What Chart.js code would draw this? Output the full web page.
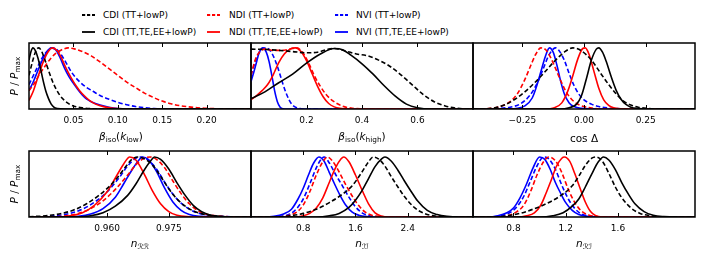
<!DOCTYPE html>
<html>
<head>
<meta charset="utf-8">
<script src="https://cdn.jsdelivr.net/npm/chart.js@4.4.1/dist/chart.umd.min.js"></script>
<style>
  body { margin: 0; background: #fff; width: 705px; height: 263px; position: relative; overflow: hidden;
         font-family: 'DejaVu Sans', 'Noto Sans', sans-serif; }
  canvas { position: absolute; }
  .leg { position: absolute; font-size: 9px; white-space: nowrap; line-height: 11px; transform: translateY(-50%); color: #000; }
  .legline { position: absolute; }
</style>
</head>
<body>
<div id="legend"></div>
<script>
// beta_iso(k_low)
const kLowTicks = [0.05, 0.10, 0.15, 0.20];
const kLowLabels = ['0.05', '0.10', '0.15', '0.20'];
const aCdiTT = [[0,0.55],[0.004,0.78],[0.008,0.96],[0.011,1.0],[0.014,0.95],[0.018,0.8],[0.022,0.63],[0.026,0.47],[0.03,0.34],[0.035,0.22],[0.04,0.14],[0.045,0.085],[0.05,0.05],[0.06,0.018],[0.07,0.005],[0.08,0],[0.25,0]];
const aCdiAll = [[0,0.8],[0.002,0.93],[0.0045,1.0],[0.007,0.96],[0.01,0.84],[0.013,0.66],[0.016,0.46],[0.019,0.29],[0.022,0.17],[0.025,0.08],[0.028,0.03],[0.032,0.008],[0.04,0],[0.25,0]];
const aNdiTT = [[0,0.3],[0.006,0.42],[0.012,0.57],[0.018,0.7],[0.024,0.82],[0.03,0.91],[0.037,0.97],[0.044,1.0],[0.052,0.98],[0.06,0.94],[0.07,0.87],[0.08,0.77],[0.09,0.66],[0.1,0.55],[0.11,0.44],[0.12,0.35],[0.13,0.26],[0.14,0.19],[0.15,0.13],[0.16,0.085],[0.17,0.055],[0.18,0.035],[0.19,0.02],[0.2,0.01],[0.22,0.003],[0.24,0],[0.25,0]];
const aNdiAll = [[0,0.14],[0.005,0.3],[0.01,0.52],[0.015,0.73],[0.02,0.9],[0.026,1.0],[0.032,0.95],[0.037,0.82],[0.042,0.66],[0.047,0.52],[0.052,0.4],[0.057,0.3],[0.062,0.22],[0.068,0.14],[0.075,0.08],[0.085,0.035],[0.095,0.012],[0.105,0.002],[0.115,0],[0.25,0]];
const aNviTT = [[0,0.4],[0.005,0.55],[0.01,0.7],[0.015,0.84],[0.02,0.94],[0.027,1.0],[0.033,0.95],[0.04,0.8],[0.048,0.6],[0.056,0.46],[0.064,0.36],[0.072,0.29],[0.08,0.22],[0.09,0.16],[0.1,0.11],[0.11,0.07],[0.12,0.04],[0.13,0.02],[0.14,0.007],[0.15,0],[0.25,0]];
const aNviAll = [[0,0.3],[0.005,0.45],[0.01,0.63],[0.015,0.8],[0.02,0.93],[0.025,1.0],[0.03,0.97],[0.035,0.84],[0.04,0.67],[0.045,0.53],[0.05,0.42],[0.055,0.32],[0.06,0.23],[0.065,0.16],[0.07,0.12],[0.08,0.065],[0.09,0.03],[0.1,0.008],[0.11,0],[0.25,0]];

// beta_iso(k_high)
const kHighTicks = [0.2, 0.4, 0.6];
const kHighLabels = ['0.2', '0.4', '0.6'];
const bCdiTT = [[0,0.98],[0.05,0.975],[0.1,0.96],[0.15,0.94],[0.2,0.92],[0.24,0.93],[0.28,0.98],[0.3,0.99],[0.34,0.95],[0.38,0.9],[0.42,0.87],[0.46,0.8],[0.5,0.7],[0.54,0.56],[0.58,0.4],[0.62,0.24],[0.66,0.12],[0.7,0.05],[0.74,0.015],[0.78,0],[0.8,0]];
const bCdiAll = [[0,0.17],[0.05,0.28],[0.1,0.43],[0.15,0.57],[0.2,0.75],[0.25,0.9],[0.3,0.99],[0.33,0.97],[0.36,0.88],[0.4,0.74],[0.44,0.57],[0.48,0.38],[0.52,0.21],[0.56,0.08],[0.6,0.02],[0.65,0],[0.8,0]];
const bNdiTT = [[0,0.55],[0.015,0.8],[0.03,0.93],[0.05,0.98],[0.08,0.96],[0.11,0.96],[0.14,0.98],[0.165,1.0],[0.19,0.9],[0.21,0.73],[0.23,0.53],[0.25,0.37],[0.27,0.24],[0.29,0.15],[0.31,0.09],[0.33,0.045],[0.36,0.015],[0.4,0.002],[0.42,0],[0.8,0]];
const bNdiAll = [[0,0.15],[0.02,0.22],[0.04,0.3],[0.06,0.4],[0.08,0.56],[0.1,0.76],[0.12,0.9],[0.14,0.98],[0.16,1.0],[0.18,0.94],[0.2,0.79],[0.22,0.58],[0.24,0.37],[0.26,0.2],[0.28,0.09],[0.3,0.035],[0.32,0.01],[0.35,0],[0.8,0]];
const bNviTT = [[0,0.55],[0.01,0.7],[0.02,0.83],[0.035,0.96],[0.055,1.0],[0.07,0.95],[0.085,0.82],[0.1,0.63],[0.115,0.41],[0.13,0.22],[0.145,0.09],[0.16,0.03],[0.18,0.005],[0.2,0],[0.8,0]];
const bNviAll = [[0,0.45],[0.01,0.6],[0.02,0.77],[0.03,0.93],[0.043,1.0],[0.055,0.93],[0.065,0.78],[0.075,0.55],[0.085,0.3],[0.095,0.12],[0.105,0.03],[0.115,0.005],[0.13,0],[0.8,0]];

// cos Delta
const cosTicks = [-0.25, 0, 0.25];
const cosLabels = ['\u22120.25', '0.00', '0.25'];
const cCdiTT = [[-0.45,0],[-0.42,0],[-0.36,0.02],[-0.32,0.07],[-0.28,0.16],[-0.24,0.28],[-0.2,0.43],[-0.16,0.6],[-0.12,0.78],[-0.08,0.93],[-0.045,1.0],[-0.01,0.95],[0.03,0.8],[0.07,0.57],[0.1,0.4],[0.13,0.25],[0.16,0.13],[0.19,0.065],[0.22,0.03],[0.26,0.008],[0.3,0],[0.45,0]];
const cCdiAll = [[-0.45,0],[-0.1,0],[-0.06,0.02],[-0.03,0.08],[-0.01,0.22],[0.01,0.5],[0.03,0.8],[0.05,0.98],[0.06,1.0],[0.075,0.93],[0.09,0.78],[0.11,0.53],[0.13,0.31],[0.15,0.16],[0.17,0.075],[0.19,0.03],[0.22,0.008],[0.26,0],[0.45,0]];
const cNdiTT = [[-0.45,0],[-0.43,0],[-0.38,0.01],[-0.34,0.04],[-0.3,0.12],[-0.27,0.25],[-0.24,0.48],[-0.215,0.72],[-0.195,0.9],[-0.175,1.0],[-0.155,0.97],[-0.135,0.84],[-0.115,0.66],[-0.095,0.47],[-0.075,0.3],[-0.055,0.18],[-0.03,0.09],[0,0.04],[0.04,0.012],[0.08,0.003],[0.12,0],[0.45,0]];
const cNdiAll = [[-0.45,0],[-0.16,0],[-0.12,0.02],[-0.09,0.1],[-0.065,0.3],[-0.045,0.55],[-0.025,0.82],[-0.005,0.99],[0.005,1.0],[0.02,0.9],[0.04,0.62],[0.06,0.34],[0.08,0.15],[0.1,0.06],[0.12,0.02],[0.15,0.003],[0.18,0],[0.45,0]];
const cNviTT = [[-0.45,0],[-0.42,0],[-0.35,0.01],[-0.3,0.03],[-0.26,0.08],[-0.22,0.22],[-0.19,0.42],[-0.165,0.66],[-0.145,0.86],[-0.125,0.98],[-0.115,1.0],[-0.1,0.95],[-0.08,0.8],[-0.06,0.58],[-0.04,0.38],[-0.02,0.24],[0,0.15],[0.03,0.08],[0.06,0.04],[0.1,0.015],[0.15,0.003],[0.2,0],[0.45,0]];
const cNviAll = [[-0.45,0],[-0.3,0],[-0.27,0.01],[-0.24,0.05],[-0.21,0.18],[-0.19,0.4],[-0.17,0.68],[-0.155,0.88],[-0.14,1.0],[-0.125,0.93],[-0.11,0.72],[-0.095,0.46],[-0.08,0.25],[-0.06,0.1],[-0.04,0.04],[-0.01,0.01],[0.03,0.002],[0.1,0],[0.45,0]];

// n_RR
const nRRTicks = [0.960, 0.975];
const nRRLabels = ['0.960', '0.975'];
const dCdiTT = [[0.941,0.005],[0.945,0.02],[0.949,0.06],[0.952,0.12],[0.955,0.22],[0.958,0.36],[0.961,0.54],[0.963,0.7],[0.965,0.88],[0.966,0.96],[0.9675,1.0],[0.969,0.97],[0.971,0.87],[0.973,0.68],[0.975,0.47],[0.977,0.3],[0.979,0.18],[0.981,0.1],[0.984,0.04],[0.987,0.012],[0.99,0.002],[0.993,0],[0.995,0]];
const dCdiAll = [[0.941,0],[0.952,0],[0.956,0.02],[0.959,0.07],[0.962,0.18],[0.965,0.36],[0.967,0.55],[0.969,0.78],[0.971,0.97],[0.9715,1.0],[0.973,0.96],[0.975,0.8],[0.977,0.57],[0.979,0.36],[0.981,0.19],[0.983,0.09],[0.985,0.035],[0.988,0.008],[0.992,0],[0.995,0]];
const dNdiTT = [[0.941,0],[0.946,0],[0.95,0.02],[0.953,0.06],[0.956,0.14],[0.959,0.27],[0.962,0.46],[0.965,0.7],[0.967,0.87],[0.969,0.98],[0.9705,1.0],[0.972,0.96],[0.974,0.82],[0.976,0.6],[0.978,0.39],[0.98,0.22],[0.982,0.11],[0.984,0.05],[0.987,0.015],[0.99,0.003],[0.993,0],[0.995,0]];
const dNdiAll = [[0.941,0],[0.948,0],[0.951,0.02],[0.954,0.07],[0.957,0.2],[0.96,0.42],[0.962,0.65],[0.964,0.88],[0.9655,1.0],[0.967,0.95],[0.969,0.72],[0.971,0.44],[0.973,0.22],[0.975,0.09],[0.977,0.03],[0.98,0.005],[0.983,0],[0.995,0]];
const dNviTT = [[0.941,0],[0.943,0],[0.947,0.02],[0.951,0.06],[0.954,0.13],[0.957,0.25],[0.96,0.42],[0.963,0.66],[0.965,0.85],[0.967,0.98],[0.968,1.0],[0.97,0.95],[0.972,0.8],[0.974,0.58],[0.976,0.38],[0.978,0.23],[0.98,0.13],[0.982,0.07],[0.985,0.03],[0.988,0.01],[0.992,0],[0.995,0]];
const dNviAll = [[0.941,0],[0.95,0],[0.953,0.01],[0.956,0.05],[0.959,0.14],[0.962,0.33],[0.964,0.55],[0.966,0.78],[0.968,0.97],[0.9685,1.0],[0.97,0.96],[0.972,0.76],[0.974,0.48],[0.976,0.25],[0.978,0.11],[0.98,0.04],[0.983,0.01],[0.986,0],[0.995,0]];

// n_II
const nIITicks = [0.8, 1.6, 2.4];
const nIILabels = ['0.8', '1.6', '2.4'];
const eCdiTT = [[0,0],[0.4,0],[0.6,0.02],[0.8,0.06],[1.0,0.13],[1.2,0.24],[1.4,0.38],[1.55,0.52],[1.7,0.75],[1.8,0.92],[1.87,1.0],[1.95,0.97],[2.05,0.85],[2.15,0.67],[2.25,0.5],[2.35,0.34],[2.5,0.16],[2.65,0.06],[2.8,0.02],[3.0,0],[3.4,0]];
const eCdiAll = [[0,0],[1.0,0],[1.2,0.02],[1.35,0.06],[1.5,0.16],[1.6,0.28],[1.7,0.44],[1.8,0.64],[1.9,0.84],[2.0,0.97],[2.05,1.0],[2.15,0.93],[2.25,0.78],[2.35,0.6],[2.45,0.43],[2.55,0.27],[2.7,0.11],[2.85,0.04],[3.0,0.01],[3.2,0],[3.4,0]];
const eNdiTT = [[0,0],[0.4,0],[0.55,0.02],[0.7,0.08],[0.8,0.2],[0.9,0.42],[1.0,0.7],[1.1,0.92],[1.17,1.0],[1.25,0.93],[1.35,0.75],[1.45,0.54],[1.55,0.35],[1.65,0.19],[1.75,0.08],[1.85,0.03],[2.0,0.005],[2.1,0],[3.4,0]];
const eNdiAll = [[0,0],[0.65,0],[0.8,0.02],[0.9,0.06],[1.0,0.15],[1.1,0.32],[1.2,0.58],[1.3,0.83],[1.38,0.97],[1.42,1.0],[1.5,0.92],[1.6,0.7],[1.7,0.45],[1.8,0.22],[1.9,0.07],[2.0,0.015],[2.1,0],[3.4,0]];
const eNviTT = [[0,0],[0.3,0],[0.45,0.01],[0.6,0.05],[0.7,0.14],[0.8,0.3],[0.9,0.55],[1.0,0.82],[1.08,0.97],[1.12,1.0],[1.2,0.9],[1.3,0.7],[1.4,0.52],[1.5,0.33],[1.6,0.17],[1.7,0.07],[1.8,0.025],[1.95,0.005],[2.1,0],[3.4,0]];
const eNviAll = [[0,0],[0.2,0],[0.35,0.01],[0.5,0.05],[0.62,0.13],[0.72,0.3],[0.8,0.48],[0.88,0.7],[0.96,0.9],[1.04,1.0],[1.12,0.93],[1.2,0.74],[1.28,0.55],[1.36,0.37],[1.45,0.2],[1.55,0.08],[1.65,0.03],[1.8,0.005],[1.9,0],[3.4,0]];

// n_RI
const nRITicks = [0.8, 1.2, 1.6];
const nRILabels = ['0.8', '1.2', '1.6'];
const fCdiTT = [[0.49,0],[0.65,0],[0.75,0.02],[0.85,0.06],[0.95,0.13],[1.05,0.22],[1.15,0.34],[1.25,0.52],[1.3,0.68],[1.35,0.86],[1.4,0.98],[1.43,1.0],[1.48,0.93],[1.53,0.73],[1.58,0.5],[1.63,0.32],[1.7,0.15],[1.77,0.06],[1.85,0.02],[1.95,0],[2.19,0]];
const fCdiAll = [[0.49,0],[1.0,0],[1.1,0.02],[1.18,0.07],[1.25,0.18],[1.3,0.3],[1.35,0.5],[1.4,0.72],[1.45,0.92],[1.49,1.0],[1.53,0.95],[1.58,0.79],[1.63,0.57],[1.68,0.38],[1.73,0.22],[1.8,0.09],[1.87,0.03],[1.95,0.007],[2.05,0],[2.19,0]];
const fNdiTT = [[0.49,0],[0.68,0],[0.75,0.02],[0.82,0.08],[0.88,0.2],[0.93,0.42],[0.98,0.7],[1.03,0.92],[1.07,1.0],[1.12,0.94],[1.17,0.74],[1.22,0.46],[1.27,0.24],[1.32,0.1],[1.38,0.03],[1.45,0.005],[1.52,0],[2.19,0]];
const fNdiAll = [[0.49,0],[0.83,0],[0.9,0.02],[0.96,0.07],[1.01,0.2],[1.05,0.4],[1.09,0.62],[1.13,0.85],[1.17,0.98],[1.19,1.0],[1.23,0.93],[1.27,0.72],[1.31,0.48],[1.35,0.25],[1.39,0.09],[1.43,0.02],[1.48,0],[2.19,0]];
const fNviTT = [[0.49,0],[0.62,0],[0.7,0.02],[0.77,0.07],[0.83,0.18],[0.88,0.35],[0.93,0.6],[0.98,0.85],[1.03,1.0],[1.07,0.97],[1.12,0.8],[1.17,0.53],[1.22,0.3],[1.27,0.14],[1.32,0.05],[1.4,0.01],[1.5,0],[2.19,0]];
const fNviAll = [[0.49,0],[0.6,0],[0.68,0.02],[0.75,0.07],[0.8,0.15],[0.85,0.32],[0.9,0.55],[0.95,0.82],[1.0,1.0],[1.04,0.96],[1.08,0.8],[1.12,0.58],[1.16,0.4],[1.2,0.24],[1.25,0.11],[1.3,0.04],[1.38,0.008],[1.45,0],[2.19,0]];

const seriesNames = ['CDI (TT+lowP)', 'CDI (TT,TE,EE+lowP)', 'NDI (TT+lowP)', 'NDI (TT,TE,EE+lowP)', 'NVI (TT+lowP)', 'NVI (TT,TE,EE+lowP)'];
const seriesColors = ['#000', '#000', '#f00', '#f00', '#00f', '#00f'];
const seriesDashed = [true, false, true, false, true, false];

const FONT = "'DejaVu Sans', 'Noto Sans', sans-serif";
const DASH = [4.5, 2.5];

// layout of the 2x3 grid (pixels)
const colLeft = [29, 251, 473];
const rowTop = [43, 151];
const plotW = 222, plotH = 66;
const axisH = 40;

// titles as [text, style] pieces: i = italic, s = subscript
const panels = [
  { row: 0, col: 0, min: 0, max: 0.25, ymax: 1.08, ticks: kLowTicks, labels: kLowLabels,
    series: [aCdiTT, aCdiAll, aNdiTT, aNdiAll, aNviTT, aNviAll],
    title: [['β','i'],['iso','s'],['(',''],['k','i'],['low','s'],[')','']], dx: -19, base: 31 },
  { row: 0, col: 1, min: 0, max: 0.8, ymax: 1.08, ticks: kHighTicks, labels: kHighLabels,
    series: [bCdiTT, bCdiAll, bNdiTT, bNdiAll, bNviTT, bNviAll],
    title: [['β','i'],['iso','s'],['(',''],['k','i'],['high','s'],[')','']], dx: 0, base: 31 },
  { row: 0, col: 2, min: -0.45, max: 0.45, ymax: 1.08, ticks: cosTicks, labels: cosLabels,
    series: [cCdiTT, cCdiAll, cNdiTT, cNdiAll, cNviTT, cNviAll],
    title: [['cos Δ','']], dx: 0, base: 32.5 },
  { row: 1, col: 0, min: 0.941, max: 0.995, ymax: 1.1, ticks: nRRTicks, labels: nRRLabels,
    series: [dCdiTT, dCdiAll, dNdiTT, dNdiAll, dNviTT, dNviAll],
    title: [['n','i'],['ℛℛ','si']], dx: 0, base: 30 },
  { row: 1, col: 1, min: 0, max: 3.4, ymax: 1.1, ticks: nIITicks, labels: nIILabels,
    series: [eCdiTT, eCdiAll, eNdiTT, eNdiAll, eNviTT, eNviAll],
    title: [['n','i'],['ℐℐ','si']], dx: 0, base: 30 },
  { row: 1, col: 2, min: 0.49, max: 2.19, ymax: 1.1, ticks: nRITicks, labels: nRILabels,
    series: [fCdiTT, fCdiAll, fNdiTT, fNdiAll, fNviTT, fNviAll],
    title: [['n','i'],['ℛℐ','si']], dx: 0, base: 30 }
];
const yTitle = [['P','i'],[' / ',''],['P','i'],['max','s']];

function pieceFont(p, size) {
  const sub = p[1].includes('s');
  return (p[1].includes('i') ? 'italic ' : '') + (sub ? size * 0.7 : size) + 'px ' + FONT;
}

// draws mixed text centred on x, with the main baseline at y
function drawRich(ctx, pieces, x, y, size) {
  let w = 0;
  pieces.forEach(p => { ctx.font = pieceFont(p, size); w += ctx.measureText(p[0]).width; });
  let cx = x - w / 2;
  ctx.textAlign = 'left';
  ctx.textBaseline = 'alphabetic';
  pieces.forEach(p => {
    ctx.font = pieceFont(p, size);
    ctx.fillText(p[0], cx, y + (p[1].includes('s') ? size * 0.22 : 0));
    cx += ctx.measureText(p[0]).width;
  });
}

const framePlugin = {
  id: 'frame',
  afterDatasetsDraw(chart, args, opts) {
    const { ctx, chartArea: a, scales: { x } } = chart;
    ctx.save();
    ctx.strokeStyle = '#000';
    ctx.fillStyle = '#000';
    // inward ticks, bottom and top
    ctx.lineWidth = 1;
    x.ticks.forEach(t => {
      const px = Math.round(x.getPixelForValue(t.value)) + 0.5;
      ctx.beginPath();
      ctx.moveTo(px, a.top); ctx.lineTo(px, a.top + 4);
      ctx.moveTo(px, a.bottom); ctx.lineTo(px, a.bottom - 4);
      ctx.stroke();
    });
    ctx.lineWidth = 1.5;
    ctx.strokeRect(a.left, a.top, a.right - a.left, a.bottom - a.top);
    // x axis title
    drawRich(ctx, opts.title, (a.left + a.right) / 2 + opts.dx, a.bottom + opts.base, 10.5);
    // y axis title on the left column
    if (opts.yTitle) {
      ctx.translate(17.5, (a.top + a.bottom) / 2);
      ctx.rotate(-Math.PI / 2);
      drawRich(ctx, yTitle, 0, 0, 10.5);
    }
    ctx.restore();
  }
};

panels.forEach(pn => {
  const padL = pn.col === 0 ? 29 : 6, padR = 6, padT = 6;
  const cv = document.createElement('canvas');
  const w = padL + plotW + padR, h = padT + plotH + axisH;
  cv.width = w; cv.height = h;
  cv.style.width = w + 'px'; cv.style.height = h + 'px';
  cv.style.left = (colLeft[pn.col] - padL) + 'px';
  cv.style.top = (rowTop[pn.row] - padT) + 'px';
  document.body.appendChild(cv);

  new Chart(cv.getContext('2d'), {
    type: 'line',
    data: {
      datasets: pn.series.map((s, i) => ({
        label: seriesNames[i],
        data: s.map(p => ({ x: p[0], y: p[1] })),
        borderColor: seriesColors[i],
        borderDash: seriesDashed[i] ? DASH : [],
        borderWidth: 1.6,
        pointRadius: 0,
        fill: false,
        cubicInterpolationMode: 'monotone'
      }))
    },
    options: {
      responsive: false,
      animation: false,
      events: [],
      layout: { padding: { left: padL, right: padR, top: padT, bottom: 0 } },
      plugins: {
        legend: { display: false },
        tooltip: { enabled: false },
        frame: { title: pn.title, dx: pn.dx, base: pn.base, yTitle: pn.col === 0 }
      },
      scales: {
        x: {
          type: 'linear', min: pn.min, max: pn.max,
          grid: { display: false, drawTicks: false },
          border: { display: false },
          ticks: {
            padding: 6, autoSkip: false, maxRotation: 0, color: '#000',
            font: { family: FONT, size: 9 },
            callback: (v, i) => pn.labels[i]
          },
          afterBuildTicks: sc => { sc.ticks = pn.ticks.map(v => ({ value: v })); },
          afterFit: sc => { sc.height = axisH; }
        },
        y: { display: false, min: 0, max: pn.ymax }
      }
    },
    plugins: [framePlugin]
  });
});

// legend: three columns, dashed on top, solid below
const legX = [82, 207, 335];
const legTextX = [103, 229, 356];
const legY = [15, 32];
const legend = document.getElementById('legend');
seriesNames.forEach((name, i) => {
  const col = Math.floor(i / 2), row = i % 2;
  const svg = document.createElementNS('http://www.w3.org/2000/svg', 'svg');
  svg.setAttribute('class', 'legline');
  svg.setAttribute('width', 13); svg.setAttribute('height', 4);
  svg.style.left = legX[col] + 'px';
  svg.style.top = (legY[row] - 2) + 'px';
  const ln = document.createElementNS('http://www.w3.org/2000/svg', 'line');
  ln.setAttribute('x1', 0); ln.setAttribute('x2', 13);
  ln.setAttribute('y1', 2); ln.setAttribute('y2', 2);
  ln.setAttribute('stroke', seriesColors[i]);
  ln.setAttribute('stroke-width', 1.8);
  if (seriesDashed[i]) ln.setAttribute('stroke-dasharray', '3.2 1.8');
  svg.appendChild(ln);
  legend.appendChild(svg);
  const tx = document.createElement('div');
  tx.className = 'leg';
  tx.textContent = name;
  tx.style.left = legTextX[col] + 'px';
  tx.style.top = legY[row] + 'px';
  legend.appendChild(tx);
});
</script>
</body>
</html>
